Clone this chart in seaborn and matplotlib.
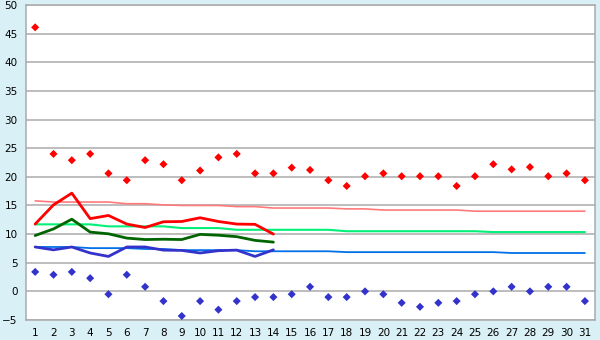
import matplotlib
matplotlib.use("Agg")
import matplotlib.pyplot as plt
import seaborn as sns
import pandas as pd
import numpy as np

sns.set_style("white")
plt.rcParams['font.family'] = ['DejaVu Sans']

days = list(range(1, 32))
day_labels = [str(d) for d in days]

max_temp = [46.1, 24.0, 22.9, 24.0, 20.6, 19.4, 22.9, 22.2, 19.4, 21.1,
            23.4, 24.0, 20.6, 20.6, 21.6, 21.2, 19.4, 18.4, 20.1, 20.6,
            20.1, 20.1, 20.1, 18.4, 20.1, 22.2, 21.3, 21.7, 20.1, 20.6, 19.4]
min_temp = [3.4, 2.9, 3.4, 2.3, -0.5, 2.9, 0.8, -1.7, -4.3, -1.7,
            -3.2, -1.7, -1.0, -1.0, -0.5, 0.8, -1.0, -1.0, 0.0, -0.5,
            -2.0, -2.7, -2.0, -1.7, -0.5, 0.0, 0.8, 0.0, 0.8, 0.8, -1.7]

obs_days = list(range(1, 15))
obs_max = [11.75, 15.1, 17.15, 12.7, 13.25, 11.75, 11.15, 12.15, 12.2, 12.85,
           12.2, 11.75, 11.7, 10.0]
obs_mean = [9.75, 10.9, 12.6, 10.35, 10.05, 9.3, 9.05, 9.1, 9.05, 9.95,
            9.8, 9.55, 8.9, 8.6]
obs_min = [7.75, 7.25, 7.75, 6.7, 6.1, 7.75, 7.75, 7.2, 7.15, 6.7,
           7.1, 7.2, 6.1, 7.25]

norm_max = [15.8, 15.6, 15.6, 15.6, 15.6, 15.3, 15.3, 15.1, 15.0, 15.0,
            15.0, 14.8, 14.8, 14.55, 14.55, 14.55, 14.55, 14.4, 14.4, 14.2,
            14.2, 14.2, 14.2, 14.2, 14.0, 14.0, 14.0, 14.0, 14.0, 14.0, 14.0]
norm_mean = [11.7, 11.7, 11.7, 11.7, 11.35, 11.35, 11.35, 11.35, 11.05, 11.05,
             11.05, 10.75, 10.75, 10.75, 10.75, 10.75, 10.75, 10.5, 10.5, 10.5,
             10.5, 10.5, 10.5, 10.5, 10.5, 10.35, 10.35, 10.35, 10.35, 10.35, 10.35]
norm_min = [7.75, 7.75, 7.75, 7.55, 7.55, 7.55, 7.4, 7.4, 7.2, 7.2,
            7.2, 7.2, 7.0, 7.0, 7.0, 7.0, 7.0, 6.85, 6.85, 6.85,
            6.85, 6.85, 6.85, 6.85, 6.85, 6.85, 6.7, 6.7, 6.7, 6.7, 6.7]

bg = '#d9f0f6'
grid_c = '#ababab'

fig = plt.figure(figsize=(6, 3.4), dpi=100, facecolor=bg)
ax = fig.add_axes([26/600, 1-320/340, (595-26)/600, (320-5)/340])
ax.set_facecolor('white')

for y in range(-5, 51, 5):
    ax.axhline(y, color=grid_c, lw=1.1, zorder=0)

sns.lineplot(x=days, y=norm_max, ax=ax, color='#ff7a7a', lw=1.2, zorder=2)
sns.lineplot(x=days, y=norm_mean, ax=ax, color='#00f078', lw=1.5, zorder=2)
sns.lineplot(x=days, y=norm_min, ax=ax, color='#0070e8', lw=1.3, zorder=2)

sns.lineplot(x=obs_days, y=obs_max, ax=ax, color='#ff0000', lw=2.0, zorder=3)
sns.lineplot(x=obs_days, y=obs_mean, ax=ax, color='#006400', lw=2.0, zorder=3)
sns.lineplot(x=obs_days, y=obs_min, ax=ax, color='#3333cc', lw=2.0, zorder=3)

sns.scatterplot(x=days, y=max_temp, ax=ax, color='#ff0000', marker='D', s=17,
                edgecolor='none', zorder=4)
sns.scatterplot(x=days, y=min_temp, ax=ax, color='#3333cc', marker='D', s=17,
                edgecolor='none', zorder=4)

ax.set_xlim(0.5, 31.55)
ax.set_ylim(-5, 50)
ax.set_xticks(days)
ax.set_xticklabels(day_labels)
ax.set_yticks(range(-5, 51, 5))
ax.set_yticklabels(['\u22125'] + [str(v) for v in range(0, 51, 5)])
ax.tick_params(axis='both', direction='out', length=4, width=1, color=grid_c,
               labelsize=7.5, labelcolor='black', pad=2)
for s in ax.spines.values():
    s.set_color(grid_c)
    s.set_linewidth(1.1)
ax.set_xlabel('')
ax.set_ylabel('')

fig.savefig('out.png', dpi=100, facecolor=bg)
